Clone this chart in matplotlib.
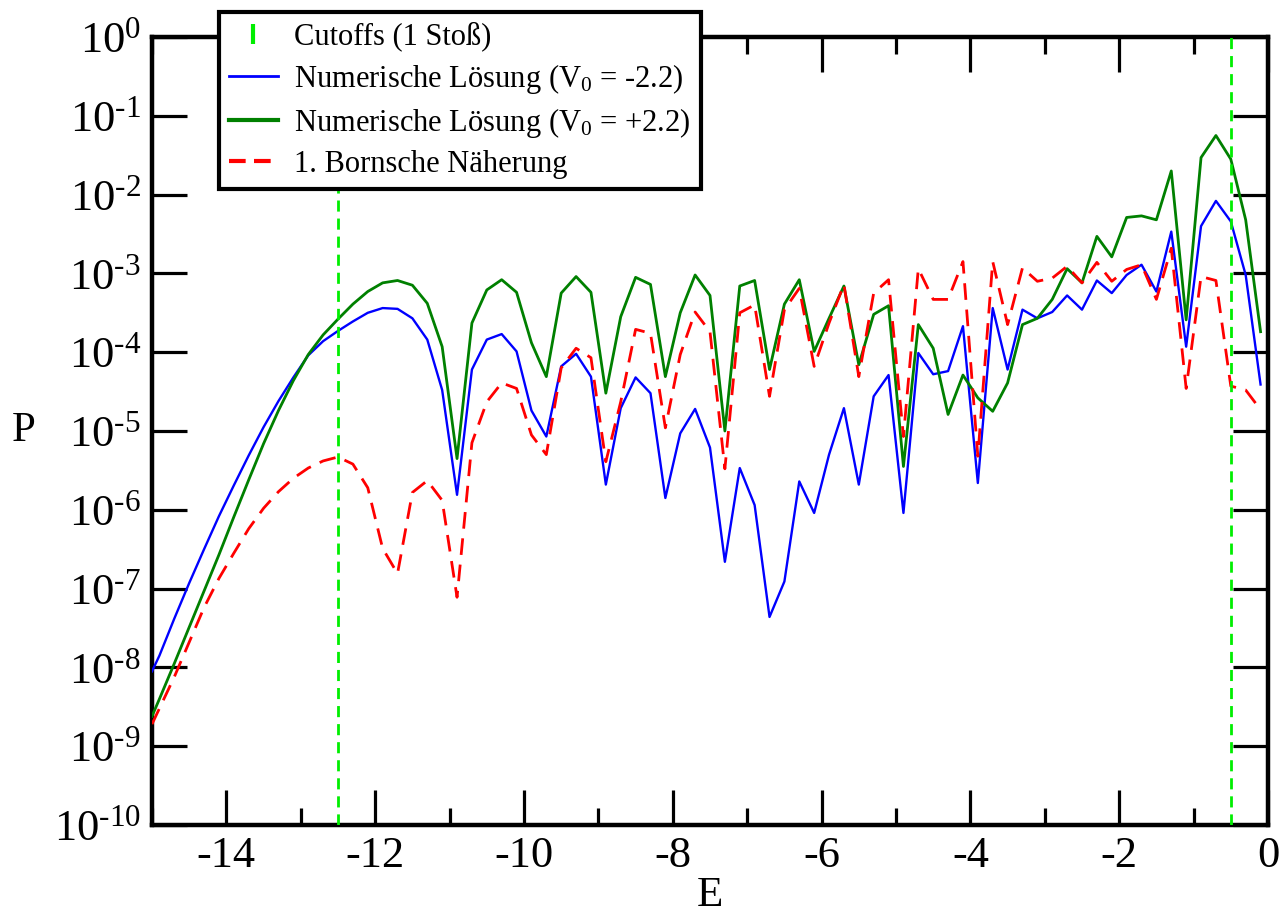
import numpy as np
import matplotlib
matplotlib.use("Agg")
import matplotlib.pyplot as plt
from matplotlib.lines import Line2D
from matplotlib.ticker import FixedLocator, FixedFormatter, NullLocator, NullFormatter

plt.rcParams['font.family'] = ['Liberation Serif', 'DejaVu Serif']
plt.rcParams['mathtext.fontset'] = 'custom'
plt.rcParams['mathtext.rm'] = 'Liberation Serif'
plt.rcParams['mathtext.it'] = 'Liberation Serif:italic'
plt.rcParams['axes.unicode_minus'] = False

# Energy grid (E) and log10 of the probabilities
E = [-15.0, -14.9, -14.7, -14.5, -14.3, -14.1, -13.9, -13.7, -13.5, -13.3, -13.1,
     -12.9, -12.7, -12.5, -12.3, -12.1, -11.9, -11.7, -11.5, -11.3, -11.1,
     -10.9, -10.7, -10.5, -10.3, -10.1, -9.9, -9.7, -9.5, -9.3, -9.1,
     -8.9, -8.7, -8.5, -8.3, -8.1, -7.9, -7.7, -7.5, -7.3, -7.1,
     -6.9, -6.7, -6.5, -6.3, -6.1, -5.9, -5.7, -5.5, -5.3, -5.1,
     -4.9, -4.7, -4.5, -4.3, -4.1, -3.9, -3.7, -3.5, -3.3, -3.1,
     -2.9, -2.7, -2.5, -2.3, -2.1, -1.9, -1.7, -1.5, -1.3, -1.1,
     -0.9, -0.7, -0.5, -0.3, -0.1]

log_blue = [-8.05, -7.85, -7.38, -6.93, -6.50, -6.08, -5.69, -5.31, -4.95, -4.62, -4.32,
            -4.04, -3.86, -3.73, -3.61, -3.50, -3.44, -3.45, -3.57, -3.84, -4.48,
            -5.81, -4.22, -3.84, -3.77, -3.99, -4.74, -5.07, -4.18, -4.02, -4.31,
            -5.68, -4.71, -4.32, -4.52, -5.85, -5.03, -4.72, -5.21, -6.66, -5.47,
            -5.94, -7.36, -6.91, -5.64, -6.04, -5.30, -4.71, -5.68, -4.56, -4.29,
            -6.04, -4.01, -4.28, -4.24, -3.67, -5.66, -3.44, -4.22, -3.46, -3.57,
            -3.49, -3.28, -3.46, -3.09, -3.25, -3.02, -2.89, -3.23, -2.47, -3.93,
            -2.40, -2.08, -2.34, -3.02, -4.41]

log_green = [-8.62, -8.40, -7.95, -7.49, -7.03, -6.57, -6.09, -5.62, -5.16, -4.74, -4.36,
             -4.03, -3.78, -3.58, -3.39, -3.23, -3.12, -3.09, -3.15, -3.38, -3.93,
             -5.35, -3.63, -3.21, -3.08, -3.24, -3.88, -4.31, -3.25, -3.04, -3.24,
             -4.52, -3.55, -3.05, -3.14, -4.31, -3.50, -3.02, -3.28, -5.00, -3.16,
             -3.09, -4.22, -3.39, -3.08, -3.99, -3.57, -3.16, -4.16, -3.52, -3.41,
             -5.45, -3.65, -3.95, -4.79, -4.29, -4.58, -4.75, -4.39, -3.65, -3.57,
             -3.33, -2.94, -3.12, -2.53, -2.79, -2.29, -2.27, -2.32, -1.70, -3.59,
             -1.53, -1.25, -1.55, -2.32, -3.74]

log_red = [-8.72, -8.52, -8.12, -7.68, -7.24, -6.87, -6.55, -6.24, -5.98, -5.77, -5.60,
           -5.47, -5.38, -5.33, -5.42, -5.72, -6.49, -6.81, -5.78, -5.63, -5.88,
           -7.11, -5.15, -4.63, -4.39, -4.46, -5.05, -5.30, -4.20, -3.95, -4.07,
           -5.39, -4.63, -3.71, -3.76, -4.96, -4.03, -3.49, -3.74, -5.48, -3.50,
           -3.40, -4.56, -3.46, -3.19, -4.18, -3.63, -3.14, -4.31, -3.25, -3.08,
           -5.07, -2.94, -3.33, -3.33, -2.85, -5.32, -2.85, -3.65, -2.93, -3.10,
           -3.06, -2.91, -3.12, -2.86, -3.10, -2.95, -2.89, -3.33, -2.68, -4.46,
           -3.04, -3.09, -4.43, -4.48, -4.73]

cutoffs = [-12.5, -0.5]

x_ticks = [-14, -12, -10, -8, -6, -4, -2, 0]
x_tick_labels = ['-14', '-12', '-10', '-8', '-6', '-4', '-2', '0']
x_minor = [-15, -13, -11, -9, -7, -5, -3, -1]
y_exponents = [0, -1, -2, -3, -4, -5, -6, -7, -8, -9, -10]
y_exponent_text = ['0', '\u20101', '\u20102', '\u20103', '\u20104', '\u20105',
                   '\u20106', '\u20107', '\u20108', '\u20109', '\u201010']

labels = ['Cutoffs (1 Stoß)',
          'Numerische Lösung (V$_0$ = -2.2)',
          'Numerische Lösung (V$_0$ = +2.2)',
          '1. Bornsche Näherung']

P_blue = [10.0 ** v for v in log_blue]
P_green = [10.0 ** v for v in log_green]
P_red = [10.0 ** v for v in log_red]

fig = plt.figure(figsize=(12.81, 9.13), dpi=100)
ax = fig.add_axes([152/1281, 1 - 825/913, (1268-152)/1281, (825-37)/913])

ax.plot(E, P_blue, color='#0000ff', lw=1.7, zorder=3)
ax.plot(E, P_green, color='#008000', lw=2.0, zorder=3)
ax.plot(E, P_red, color='#ff0000', lw=2.0, ls=(0, (6, 3.5)), zorder=4)
for c in cutoffs:
    ax.axvline(c, color='#00ee00', lw=2.0, ls=(0, (4, 2.5)), zorder=5)

ax.set_yscale('log')
ax.set_xlim(-15, 0)
ax.set_ylim(1e-10, 1)

ax.xaxis.set_major_locator(FixedLocator(x_ticks))
ax.xaxis.set_major_formatter(FixedFormatter(x_tick_labels))
ax.xaxis.set_minor_locator(FixedLocator(x_minor))
ax.xaxis.set_minor_formatter(NullFormatter())
ax.yaxis.set_major_locator(FixedLocator([10.0 ** e for e in y_exponents]))
ax.yaxis.set_major_formatter(FixedFormatter(['$10^{%s}$' % t for t in y_exponent_text]))
ax.yaxis.set_minor_locator(NullLocator())

ax.tick_params(axis='both', which='major', direction='in', length=25, width=2.3,
               labelsize=32, top=True, right=True, pad=8)
ax.tick_params(axis='x', which='minor', direction='in', length=12, width=2.3,
               top=True, bottom=True)
for s in ax.spines.values():
    s.set_linewidth(3.2)

ax.set_xlabel('E', fontsize=31, labelpad=0)
ax.set_ylabel('P', fontsize=31, rotation=0, labelpad=22, va='center')

handles = [Line2D([], [], color='#00ee00', marker='|', ls='none', ms=14, mew=3),
           Line2D([], [], color='#0000ff', lw=2),
           Line2D([], [], color='#008000', lw=3),
           Line2D([], [], color='#ff0000', lw=3, ls=(0, (4, 2)))]
leg = ax.legend(handles, labels, loc='upper left', bbox_to_anchor=(219/1281, 1 - 12/913),
                bbox_transform=fig.transFigure, borderaxespad=0, fontsize=22,
                frameon=True, fancybox=False, framealpha=1, edgecolor='black',
                handlelength=1.6, handletextpad=0.55, labelspacing=0.33,
                borderpad=0.32)
leg.get_frame().set_linewidth(3)
leg.set_zorder(10)

fig.savefig('out.png', dpi=100)
